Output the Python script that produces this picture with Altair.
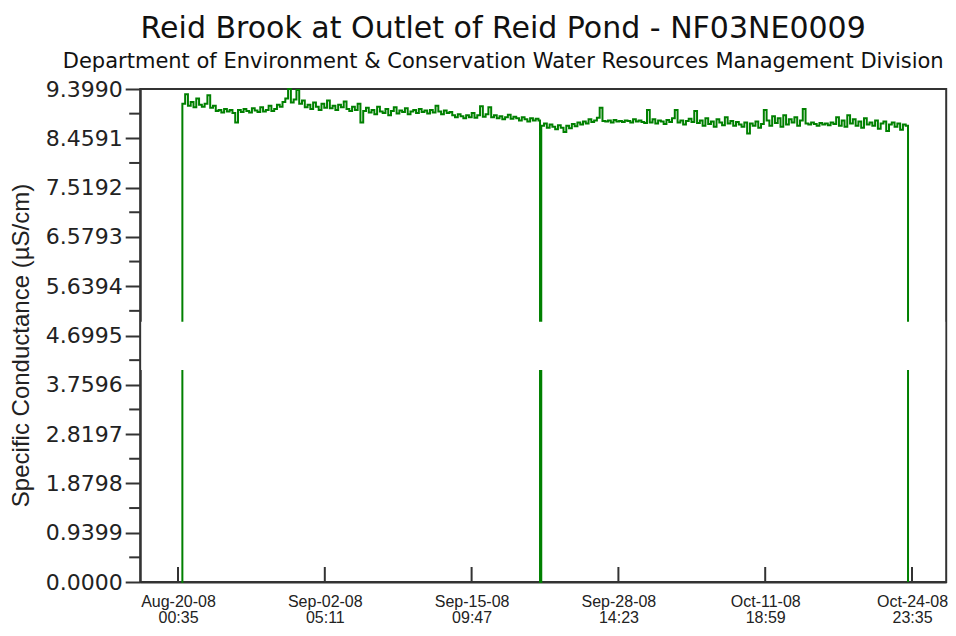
import altair as alt
import pandas as pd

TITLE = "Reid Brook at Outlet of Reid Pond - NF03NE0009"
SUBTITLE = "Department of Environment & Conservation Water Resources Management Division"
Y_TITLE = "Specific Conductance (µS/cm)"

# Readings every 6 hours starting at READ_START
READ_START = "2008-08-20T10:00:00"
READ_STEP = "6h"
READINGS = [
    9.12, 9.30, 9.08, 9.15, 9.05, 9.22, 9.10, 9.06,
    9.12, 9.28, 9.04, 9.08, 8.98, 9.00, 8.95, 9.02,
    8.97, 9.00, 8.94, 8.76, 9.00, 8.96, 9.02, 8.98,
    8.95, 9.03, 8.99, 8.96, 9.05, 8.97, 9.00, 9.08,
    8.98, 9.02, 9.10, 9.06, 9.15, 9.22, 9.399, 9.14,
    9.20, 9.38, 9.12, 9.18, 9.05, 9.10, 9.02, 9.14,
    9.06, 9.00, 9.12, 9.04, 9.18, 9.03, 9.08, 9.00,
    9.10, 9.05, 9.16, 9.02, 8.98, 9.06, 9.00, 9.12,
    8.76, 8.98, 9.04, 8.95, 9.00, 8.92, 9.06, 8.97,
    8.94, 9.02, 8.90, 8.98, 9.05, 8.93, 8.99, 8.96,
    9.03, 8.92, 8.97, 9.00, 8.94, 9.02, 8.96, 8.99,
    8.93, 9.00, 8.95, 9.08, 8.97, 8.92, 8.99, 8.94,
    8.96, 8.90, 8.86, 8.92, 8.88, 8.84, 8.90, 8.86,
    8.94, 8.85, 8.90, 9.07, 8.87, 8.92, 9.05, 8.86,
    8.90, 8.84, 8.88, 8.82, 8.86, 8.91, 8.83, 8.87,
    8.84, 8.80, 8.86, 8.82, 8.78, 8.84, 8.80, 8.83,
    8.80, 8.70, 8.74, 8.66, 8.72, 8.68, 8.63, 8.71,
    8.66, 8.58, 8.70, 8.65, 8.73, 8.69, 8.76, 8.72,
    8.78, 8.74, 8.82, 8.77, 8.80, 8.85, 9.04, 8.79,
    8.78, 8.80, 8.76, 8.81, 8.78, 8.79, 8.77, 8.80,
    8.79, 8.76, 8.82, 8.78, 8.80, 8.77, 8.75, 9.00,
    8.76, 8.82, 8.74, 8.80, 8.78, 8.73, 8.81, 8.77,
    8.84, 9.00, 8.76, 8.80, 8.72, 8.79, 8.83, 8.77,
    8.98, 8.75, 8.80, 8.70, 8.84, 8.73, 8.78, 8.68,
    8.82, 8.76, 8.71, 8.86, 8.74, 8.79, 8.70, 8.77,
    8.72, 8.68, 8.76, 8.55, 8.74, 8.70, 8.78, 8.66,
    8.73, 9.00, 8.80, 8.70, 8.88, 8.75, 8.84, 8.68,
    8.90, 8.72, 8.82, 8.76, 8.86, 8.70, 8.80, 9.02,
    8.74, 8.72, 8.76, 8.73, 8.70, 8.75, 8.72, 8.74,
    8.71, 8.76, 8.73, 8.86, 8.70, 8.80, 8.68, 8.90,
    8.74, 8.82, 8.70, 8.78, 8.66, 8.84, 8.72, 8.76,
    8.70, 8.80, 8.64, 8.74, 8.78, 8.60, 8.72, 8.76,
    8.68, 8.74, 8.62, 8.72, 8.70,
]

# Zero readings (logger out of water / gaps)
DROP_TIMES = ["2008-08-20T08:00:00", "2008-09-21T13:20:00", "2008-10-24T15:00:00"]
DROP_VALUES = [0.0, 0.0, 0.0]

Y_TICKS = [0.0, 0.9399, 1.8798, 2.8197, 3.7596, 4.6995, 5.6394, 6.5793, 7.5192, 8.4591, 9.3990]
X_TICKS = ["2008-08-20T00:35:00", "2008-09-02T05:11:00", "2008-09-15T09:47:00",
           "2008-09-28T14:23:00", "2008-10-11T18:59:00", "2008-10-24T23:35:00"]
X_DOMAIN = ["2008-08-16T15:03:00", "2008-10-28T01:20:00"]
Y_DOMAIN = [0.0, 9.399]
GAP_BAND = [4.04, 4.96]

FMT = "%Y-%m-%dT%H:%M:%S"


def dt(s):
    ts = pd.Timestamp(s)
    return alt.DateTime(year=ts.year, month=ts.month, date=ts.day,
                        hours=ts.hour, minutes=ts.minute)


times = pd.date_range(READ_START, periods=len(READINGS), freq=READ_STEP)
readings = pd.DataFrame({"t": times, "v": READINGS})
drops = pd.DataFrame({"t": pd.to_datetime(DROP_TIMES), "v": DROP_VALUES})
series = pd.concat([readings, drops]).sort_values("t").reset_index(drop=True)
series["t"] = series["t"].dt.strftime(FMT)

W, H = 806, 493

x_axis = alt.Axis(
    values=[dt(s) for s in X_TICKS],
    labelExpr="[timeFormat(datum.value, '%b-%d-%y'), timeFormat(datum.value, '%H:%M')]",
    ticks=False, tickSize=0, labelPadding=11, labelLineHeight=16.5,
    labelFont="Liberation Sans", labelFontSize=16, labelColor="#222",
    labelOverlap=False, labelFlush=False,
    domainColor="#333", domainWidth=2, grid=False, title=None,
)
y_axis = alt.Axis(
    values=Y_TICKS, format=".4f",
    tickSize=15, tickWidth=2, tickColor="#333",
    domainColor="#333", domainWidth=2, grid=False,
    labelFont="DejaVu Sans", labelFontSize=22, labelPadding=3, labelColor="#222",
    labelOverlap=False, labelFlush=False,
    title=Y_TITLE, titleFont="Liberation Sans", titleFontSize=24,
    titleFontWeight="normal", titleColor="#222",
    titleX=-118.5, titleY=256, titleAngle=270,
    titleAlign="center", titleBaseline="middle",
)
x_scale = alt.Scale(domain=[dt(X_DOMAIN[0]), dt(X_DOMAIN[1])], nice=False)
y_scale = alt.Scale(domain=Y_DOMAIN, nice=False, zero=True)

line = alt.Chart(series).mark_line(
    color="#008000", strokeWidth=2, interpolate="step-after"
).encode(
    x=alt.X("t:T", scale=x_scale, axis=x_axis),
    y=alt.Y("v:Q", scale=y_scale, axis=y_axis),
)

gap = alt.Chart(pd.DataFrame({"v": [GAP_BAND[0]], "v2": [GAP_BAND[1]]})).mark_rect(
    color="white"
).encode(
    x=alt.value(1), x2=alt.value(W - 1),
    y=alt.Y("v:Q", scale=y_scale, axis=y_axis), y2="v2:Q",
)

x_ticks = alt.Chart(pd.DataFrame({"t": [pd.Timestamp(s).strftime(FMT) for s in X_TICKS]})).mark_rule(
    color="#333", strokeWidth=2
).encode(
    x=alt.X("t:T", scale=x_scale, axis=x_axis),
    y=alt.value(H), y2=alt.value(H - 15),
)

minor = [(a + b) / 2 for a, b in zip(Y_TICKS[:-1], Y_TICKS[1:])]
y_minor = alt.Chart(pd.DataFrame({"v": minor})).mark_rule(
    color="#333", strokeWidth=2
).encode(
    y=alt.Y("v:Q", scale=y_scale, axis=y_axis),
    x=alt.value(-11), x2=alt.value(0),
)

chart = alt.layer(line, gap, x_ticks, y_minor).properties(
    width=W, height=H,
    autosize=alt.AutoSizeParams(type="none"),
    padding={"left": 132.2, "top": 81, "right": 1.8, "bottom": 46},
    background="white",
    title=alt.TitleParams(
        text=TITLE, subtitle=SUBTITLE,
        font="DejaVu Sans", fontSize=30, fontWeight="normal", color="#111",
        subtitleFont="DejaVu Sans", subtitleFontSize=21, subtitleColor="#111",
        anchor="middle", dx=-40, offset=6, subtitlePadding=7,
    ),
).configure_view(stroke="#333", strokeWidth=2)

chart.save("out.html", embed_options={"renderer": "svg", "actions": False})
